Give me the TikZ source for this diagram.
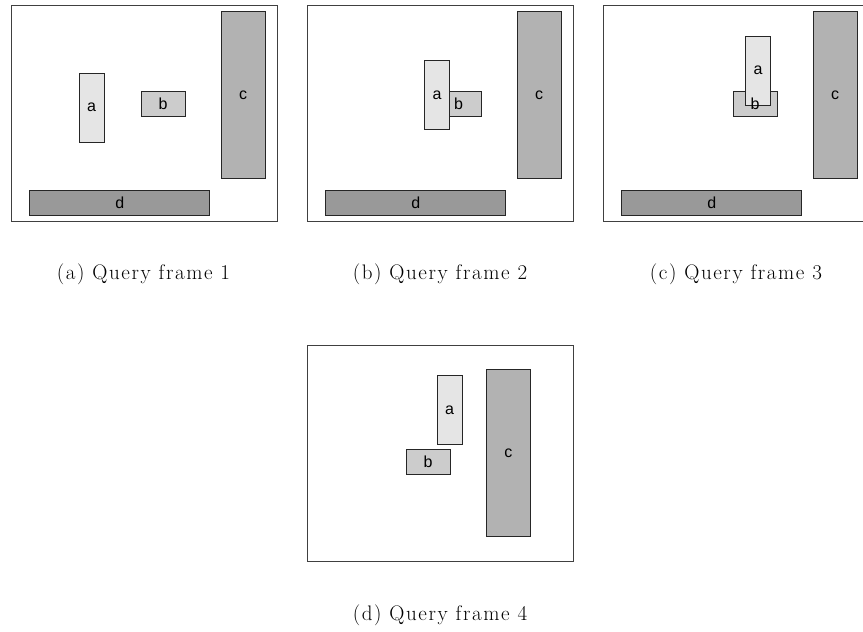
\documentclass[tikz,border=0pt]{standalone}
\usepackage{fontspec}
\newfontfamily\labelfont{Liberation Sans}
\newfontfamily\capfont[LetterSpace=7.5]{Latin Modern Roman}
\begin{document}
\begin{tikzpicture}[x=1pt,y=-1pt,
  frame/.style={draw=black!75, line width=1pt, fill=white, inner sep=0pt,
    minimum width=266, minimum height=216, anchor=north west},
  obj/.style={draw=black!85, line width=0.9pt, inner sep=0pt, anchor=north west,
    font=\labelfont\fontsize{16}{16}\selectfont},
  objA/.style={obj, fill=black!10, minimum width=25, minimum height=69},
  objB/.style={obj, fill=black!20, minimum width=44, minimum height=25},
  objC/.style={obj, fill=black!30, minimum width=44, minimum height=167},
  objD/.style={obj, fill=black!40, minimum width=180, minimum height=25},
  lbl/.style={font=\labelfont\fontsize{16}{16}\selectfont, inner sep=0pt},
  caption/.style={font=\capfont\fontsize{21}{21}\selectfont, inner sep=0pt}]
\useasboundingbox (0,0) rectangle (863,632);

% frame 1
\begin{scope}[shift={(11,5)}]
  \node[frame] (f1) at (0,0) {};
  \node[objA] (a1) at (67.7,67.7) {a};
  \node[objB] (b1) at (129.7,86.3) {b};
  \node[objC] (c1) at (209.7,6.3) {c};
  \node[objD] (d1) at (18.3,185.3) {d};
\end{scope}
\node[caption] (capa) at (143.5,274) {(a) Query frame 1};

% frame 2
\begin{scope}[shift={(307,5)}]
  \node[frame] (f2) at (0,0) {};
  \node[objB] (b2) at (129.7,86.3) {};
  \node[objA] (a2) at (117,55) {a};
  \node[lbl] (lb2) at (151.5,98.8) {b};
  \node[objC] (c2) at (209.7,6.3) {c};
  \node[objD] (d2) at (18.3,185.3) {d};
\end{scope}
\node[caption] (capb) at (440,274) {(b) Query frame 2};

% frame 3
\begin{scope}[shift={(603,5)}]
  \node[frame] (f3) at (0,0) {};
  \node[objB] (b3) at (129.7,86.3) {};
  \node[objA] (a3) at (142,30.7) {a};
  \node[lbl] (lb3) at (b3.center) {b};
  \node[objC] (c3) at (209.7,6.3) {c};
  \node[objD] (d3) at (18.3,185.3) {d};
\end{scope}
\node[caption] (capc) at (736,274) {(c) Query frame 3};

% frame 4
\begin{scope}[shift={(307,345)}]
  \node[frame] (f4) at (0,0) {};
  \node[objA] (a4) at (129.7,30.3) {a};
  \node[objB] (b4) at (98.7,104.3) {b};
  \node[objC] (c4) at (179,24.3) {c};
\end{scope}
\node[caption] (capd) at (440,615) {(d) Query frame 4};
\end{tikzpicture}
\end{document}
